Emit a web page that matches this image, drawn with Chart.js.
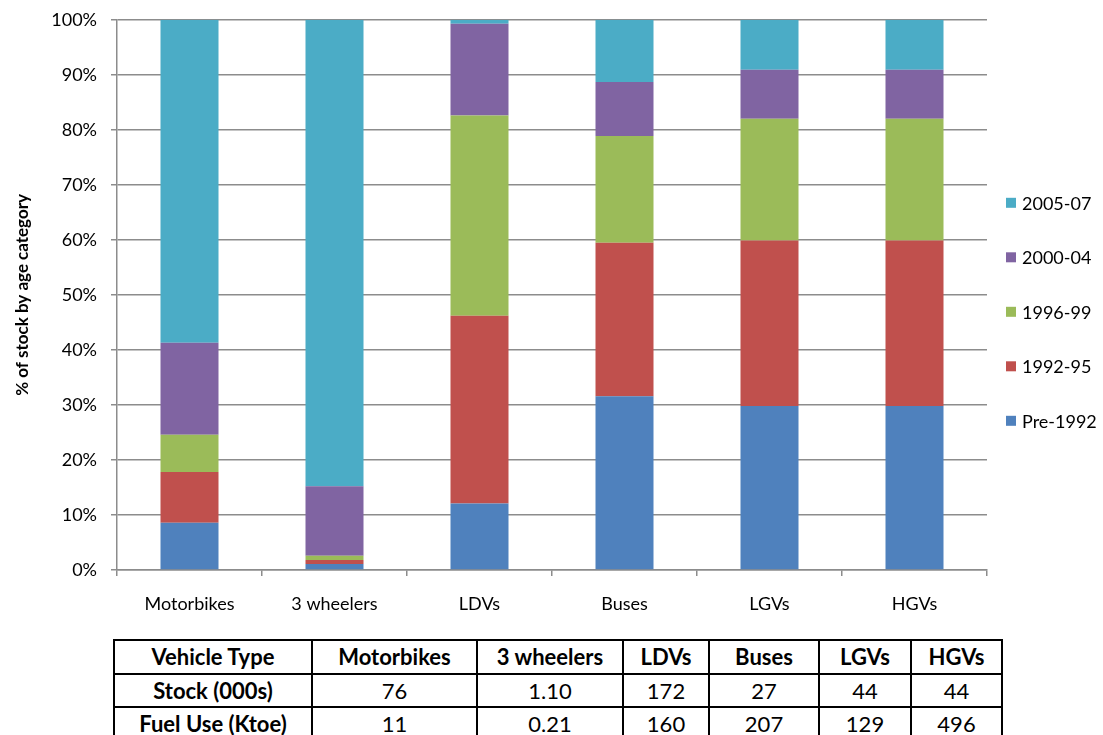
<!DOCTYPE html>
<html>
<head>
<meta charset="utf-8">
<script src="https://cdn.jsdelivr.net/npm/chart.js@4.4.1/dist/chart.umd.min.js"></script>
<style>
  html, body { margin: 0; padding: 0; background: #fff; overflow: hidden; }
  body { width: 1103px; height: 735px; position: relative; font-family: Lato, "Open Sans", sans-serif; }
  #wrap { position: absolute; left: 0; top: -5px; width: 1103px; height: 635px; }
  #info {
    position: absolute; left: 113px; top: 639px;
    border-collapse: collapse; table-layout: fixed;
    font-family: Lato, "Open Sans", sans-serif; font-size: 22px; color: #000;
  }
  #info td { border: 2px solid #000; text-align: center; height: 31.5px; padding: 0; line-height: 31px; }
  #info tr.head td, #info td.rowhead { font-weight: bold; }
</style>
</head>
<body>
<div id="wrap"><canvas id="c" width="1103" height="635"></canvas></div>
<table id="info"></table>
<script>
// Vehicle categories and share of stock (%) in each age band
const categories = ["Motorbikes", "3 wheelers", "LDVs", "Buses", "LGVs", "HGVs"];
const pre1992   = [8.6, 1.1, 12.1, 31.6, 29.8, 29.8];
const y1992_95  = [9.2, 0.7, 34.1, 27.9, 30.1, 30.1];
const y1996_99  = [6.8, 0.8, 36.4, 19.4, 22.1, 22.1];
const y2000_04  = [16.7, 12.6, 16.7, 9.8, 8.9, 8.9];
const y2005_07  = [58.7, 84.8, 0.7, 11.3, 9.1, 9.1];
const seriesNames = ["Pre-1992", "1992-95", "1996-99", "2000-04", "2005-07"];
const yTicks = [0, 10, 20, 30, 40, 50, 60, 70, 80, 90, 100];

// Summary table below the chart
const tableHeader = ["Vehicle Type", "Motorbikes", "3 wheelers", "LDVs", "Buses", "LGVs", "HGVs"];
const stockRow = ["Stock (000s)", "76", "1.10", "172", "27", "44", "44"];
const fuelRow  = ["Fuel Use (Ktoe)", "11", "0.21", "160", "207", "129", "496"];

const colours = ["#4F81BD", "#C0504D", "#9BBB59", "#8064A2", "#4BACC6"];
const seriesValues = [pre1992, y1992_95, y1996_99, y2000_04, y2005_07];
const gridColour = "#8c8c8c";

// Legend drawn at the right, newest band on top
const sideLegend = {
  id: "sideLegend",
  afterDraw(chart) {
    const ctx = chart.ctx;
    const area = chart.chartArea;
    const ds = chart.data.datasets.slice().reverse();
    ctx.save();
    ctx.font = "18px Lato, 'Open Sans', sans-serif";
    ctx.textBaseline = "middle";
    ctx.textAlign = "left";
    ds.forEach((d, i) => {
      const y = area.top + 183 + i * 54.5;
      ctx.fillStyle = d.backgroundColor;
      ctx.fillRect(area.right + 19, y - 5, 10, 10);
      ctx.fillStyle = "#000";
      ctx.fillText(d.label, area.right + 35, y + 1);
    });
    ctx.restore();
  }
};

new Chart(document.getElementById("c"), {
  type: "bar",
  data: {
    labels: categories,
    datasets: seriesNames.map((name, i) => ({
      label: name,
      data: seriesValues[i],
      backgroundColor: colours[i],
      borderWidth: 0,
      barPercentage: 0.4,
      categoryPercentage: 1.0
    }))
  },
  options: {
    responsive: false,
    animation: false,
    devicePixelRatio: 1,
    layout: { padding: { left: 8, right: 116, top: 15, bottom: 0 } },
    plugins: { legend: { display: false }, tooltip: { enabled: false } },
    scales: {
      x: {
        stacked: true,
        afterFit(scale) { scale.height = 60; },
        grid: { display: true, drawOnChartArea: false, drawTicks: true, tickLength: 6, color: gridColour, lineWidth: 1.5 },
        border: { display: true, color: gridColour, width: 1.5 },
        ticks: { color: "#000", font: { family: "Lato, 'Open Sans', sans-serif", size: 18 }, padding: 17, maxRotation: 0 }
      },
      y: {
        stacked: true,
        min: 0,
        max: 100,
        afterFit(scale) { scale.width = 109; },
        afterBuildTicks(scale) { scale.ticks = yTicks.map(v => ({ value: v })); },
        grid: { color: gridColour, lineWidth: 1.5, drawTicks: true, tickLength: 6 },
        border: { display: true, color: gridColour, width: 1.5 },
        ticks: {
          color: "#000",
          font: { family: "Lato, 'Open Sans', sans-serif", size: 18 },
          padding: 14,
          callback: v => v + "%"
        },
        title: {
          display: true,
          text: "% of stock by age category",
          color: "#000",
          font: { family: "Lato, 'Open Sans', sans-serif", size: 17, weight: "bold" }
        }
      }
    }
  },
  plugins: [sideLegend]
});

// Build the summary table
const colWidths = [198, 165, 146, 86, 110, 92, 91];
const table = document.getElementById("info");
const cg = document.createElement("colgroup");
colWidths.forEach(w => { const c = document.createElement("col"); c.style.width = w + "px"; cg.appendChild(c); });
table.appendChild(cg);
[tableHeader, stockRow, fuelRow].forEach((row, r) => {
  const tr = document.createElement("tr");
  if (r === 0) tr.className = "head";
  row.forEach((cell, c) => {
    const td = document.createElement("td");
    td.textContent = cell;
    if (c === 0) td.className = "rowhead";
    tr.appendChild(td);
  });
  table.appendChild(tr);
});
</script>
</body>
</html>
